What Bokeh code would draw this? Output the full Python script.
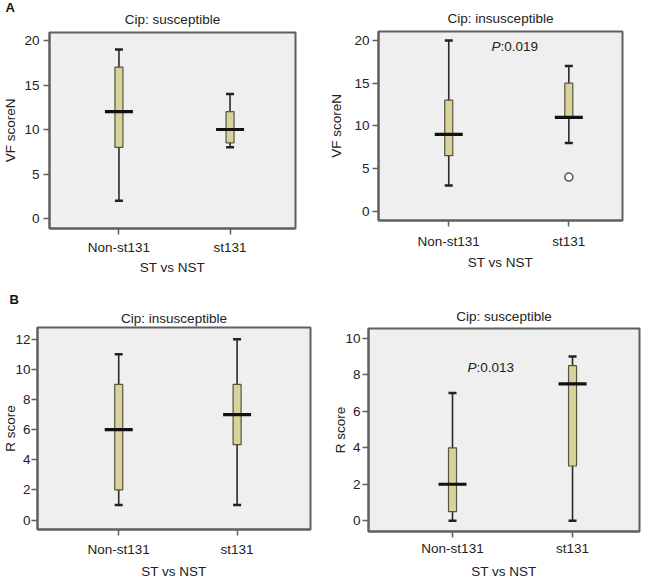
from bokeh.plotting import figure
from bokeh.models import Range1d, FixedTicker, Label, Title
from bokeh.layouts import column, row
from bokeh.embed import file_html
from bokeh.resources import INLINE

# ---------------- data ----------------
categories = ["Non-st131", "st131"]

# Panel A (left): Cip susceptible, VF scoreN
a1_min = [2, 8]
a1_q1 = [8, 8.5]
a1_med = [12, 10]
a1_q3 = [17, 12]
a1_max = [19, 14]

# Panel A (right): Cip insusceptible, VF scoreN
a2_min = [3, 8]
a2_q1 = [6.5, 11]
a2_med = [9, 11]
a2_q3 = [13, 15]
a2_max = [20, 17]
a2_out_cat = ["st131"]
a2_out_val = [4]

# Panel B (left): Cip insusceptible, R score
b1_min = [1, 1]
b1_q1 = [2, 5]
b1_med = [6, 7]
b1_q3 = [9, 9]
b1_max = [11, 12]

# Panel B (right): Cip susceptible, R score
b2_min = [0, 0]
b2_q1 = [0.5, 3]
b2_med = [2, 7.5]
b2_q3 = [4, 8.5]
b2_max = [7, 9]

vf_ticks = [0, 5, 10, 15, 20]
r1_ticks = [0, 2, 4, 6, 8, 10, 12]
r2_ticks = [0, 2, 4, 6, 8, 10]

FONT = "Liberation Sans"
FS = "13.5px"
TFS = "13.5px"
TXT = "#222222"
FRAME = "#5f5f5f"
BOX_FILL = "#D9D39B"


def style_title(t, size, bold=False):
    t.text_font = FONT
    t.text_font_size = size
    t.text_font_style = "bold" if bold else "normal"
    t.text_color = "#111111" if bold else TXT


def panel(width, height, borders, xr, yr, title, title_standoff,
          ylabel, yticks, mins, q1s, meds, q3s, maxs, letter=None, letter_offset=0,
          letter_standoff=0, x_tick_standoff=6, x_label_standoff=4, y_tick_standoff=3,
          y_label_standoff=6):
    left, right, top, bottom = borders
    fw = width - left - right
    fh = height - top - bottom
    ppx = fw / (xr[1] - xr[0])
    ppy = fh / (yr[1] - yr[0])

    def to_data(px, py):
        return xr[0] + (px - left) / ppx, yr[1] - (py - top) / ppy

    p = figure(width=width, height=height, output_backend="svg", toolbar_location=None,
               x_range=Range1d(*xr), y_range=Range1d(*yr),
               min_border_left=left, min_border_right=right,
               min_border_top=top, min_border_bottom=bottom,
               background_fill_color="#EFEFEF", border_fill_color="white",
               outline_line_color=FRAME, outline_line_width=2)
    if letter is None:
        p.title.text = title
        p.title.align = "center"
        p.title.standoff = title_standoff
        style_title(p.title, TFS)
    else:
        # outermost: panel letter; next to the frame: the panel title
        p.title.text = letter
        p.title.align = "left"
        p.title.offset = letter_offset
        p.title.standoff = letter_standoff
        style_title(p.title, "13px", bold=True)
        t = Title(text=title, align="center", standoff=title_standoff)
        style_title(t, TFS)
        p.add_layout(t, "above")

    p.xgrid.visible = False
    p.ygrid.visible = False

    xpos = list(range(1, len(categories) + 1))
    p.xaxis.ticker = FixedTicker(ticks=xpos)
    p.xaxis.major_label_overrides = {i: c for i, c in zip(xpos, categories)}
    p.xaxis.axis_label = "ST vs NST"
    p.yaxis.ticker = FixedTicker(ticks=yticks)
    p.yaxis.axis_label = ylabel
    for ax in (p.xaxis[0], p.yaxis[0]):
        ax.axis_line_color = FRAME
        ax.axis_line_width = 2
        ax.major_tick_line_color = FRAME
        ax.major_tick_line_width = 1.5
        ax.major_tick_out = 6
        ax.major_tick_in = 0
        ax.minor_tick_line_color = None
        ax.major_label_text_font = FONT
        ax.major_label_text_font_size = FS
        ax.major_label_text_color = TXT
        ax.axis_label_text_font = FONT
        ax.axis_label_text_font_size = FS
        ax.axis_label_text_font_style = "normal"
        ax.axis_label_text_color = TXT
    p.xaxis.major_label_standoff = x_tick_standoff
    p.xaxis.axis_label_standoff = x_label_standoff
    p.yaxis.major_label_standoff = y_tick_standoff
    p.yaxis.axis_label_standoff = y_label_standoff

    mid = [(a + b) / 2 for a, b in zip(q1s, q3s)]
    hgt = [b - a for a, b in zip(q1s, q3s)]
    p.segment(x0=xpos, y0=mins, x1=xpos, y1=maxs, line_color="#2a2a2a", line_width=1.6)
    p.scatter(x=xpos, y=mins, marker="dash", size=8, line_color="#222222", line_width=2.5)
    p.scatter(x=xpos, y=maxs, marker="dash", size=8, line_color="#222222", line_width=2.5)
    p.rect(x=xpos, y=mid, width=8, width_units="screen", height=hgt,
           fill_color=BOX_FILL, line_color="#55543f", line_width=1.2)
    p.scatter(x=xpos, y=meds, marker="dash", size=28, line_color="#111111", line_width=3.2)
    return p, xpos, to_data


def p_label(p, to_data, pos, num):
    x, y = to_data(*pos)
    p.add_layout(Label(x=x, y=y, text="P", text_font=FONT, text_font_size=FS,
                       text_font_style="italic", text_color=TXT,
                       text_align="right", text_baseline="middle"))
    p.add_layout(Label(x=x, y=y, text=":" + num, text_font=FONT, text_font_size=FS,
                       text_color=TXT, text_align="left", text_baseline="middle"))


pa1, _, _ = panel(326, 290, (47, 31, 32, 62), (0.375, 2.589), (-1.12, 20.9),
                  "Cip: susceptible", 12, "VF scoreN", vf_ticks,
                  a1_min, a1_q1, a1_med, a1_q3, a1_max,
                  letter="A", letter_offset=-44, letter_standoff=-23,
                  x_tick_standoff=5, x_label_standoff=2, y_tick_standoff=4, y_label_standoff=3)

pa2, xpos, td2 = panel(326, 290, (46, 30, 31, 70), (0.415, 2.447), (-1.09, 21.05),
                       "Cip: insusceptible", 11, "VF scoreN", vf_ticks,
                       a2_min, a2_q1, a2_med, a2_q3, a2_max,
                       x_tick_standoff=7, x_label_standoff=3, y_tick_standoff=3,
                       y_label_standoff=7)
out_x = [xpos[categories.index(c)] for c in a2_out_cat]
pa2.scatter(x=out_x, y=a2_out_val, marker="circle", size=8, fill_color="white",
            line_color="#555555", line_width=1.6)
p_label(pa2, td2, (171, 46), "0.019")

pb1, _, _ = panel(326, 291, (31, 16, 36, 48), (0.314, 2.62), (-0.63, 12.78),
                  "Cip: insusceptible", 4, "R score", r1_ticks,
                  b1_min, b1_q1, b1_med, b1_q3, b1_max,
                  letter="B", letter_offset=-28, letter_standoff=-1,
                  x_tick_standoff=6, x_label_standoff=4, y_tick_standoff=1,
                  y_label_standoff=-6)

pb2, _, td4 = panel(326, 291, (42, 13, 38, 46), (0.3, 2.558), (-0.59, 10.54),
                    "Cip: susceptible", 9, "R score", r2_ticks,
                    b2_min, b2_q1, b2_med, b2_q3, b2_max,
                    x_tick_standoff=3, x_label_standoff=5, y_tick_standoff=2,
                    y_label_standoff=-6)
p_label(pb2, td4, (150, 78), "0.013")

layout = column(row(column(pa1), column(pa2)), row(column(pb1), column(pb2)))
open("out.html", "w").write(file_html(layout, INLINE))
